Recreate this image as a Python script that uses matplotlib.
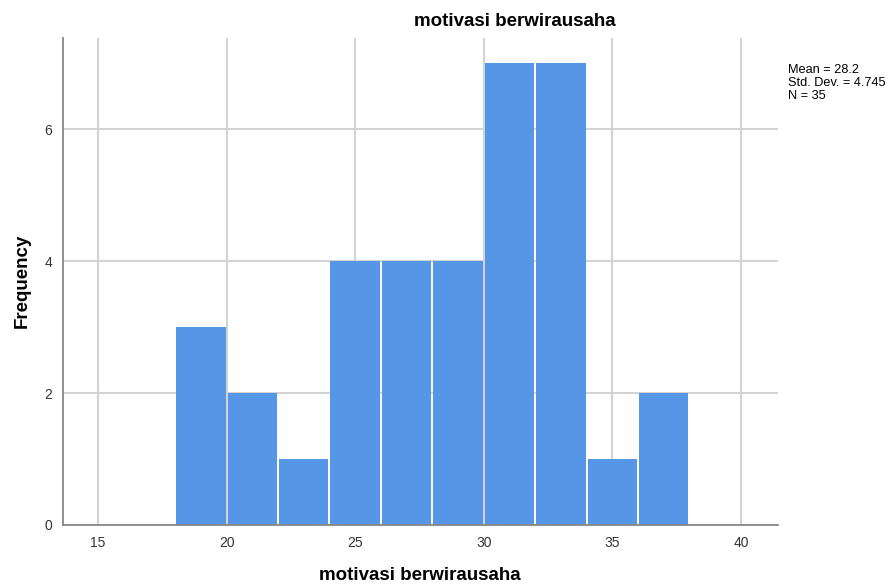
import numpy as np
import matplotlib.pyplot as plt

plt.rcParams['font.family'] = ['Liberation Sans', 'DejaVu Sans']

# histogram data (bin edges and counts)
bin_edges = [18, 20, 22, 24, 26, 28, 30, 32, 34, 36, 38]
counts = [3, 2, 1, 4, 4, 4, 7, 7, 1, 2]
xticks = [15, 20, 25, 30, 35, 40]
yticks = [0, 2, 4, 6]
title = "motivasi berwirausaha"
stats = "Mean = 28.2\nStd. Dev. = 4.745\nN = 35"

fig = plt.figure(figsize=(8.95, 5.84), dpi=100)
ax = fig.add_axes([63/895, 59/584, 715/895, 487/584])

lefts = np.array(bin_edges[:-1])
widths = np.diff(bin_edges)
ax.bar(lefts + 0.04, counts, width=widths - 0.08, align='edge',
       color='#5597E6', edgecolor='none', zorder=2)

ax.set_xlim(13.64, 41.44)
ax.set_ylim(0, 7.38)
ax.set_xticks(xticks)
ax.set_yticks(yticks)
ax.grid(True, color='#d3d3d3', linewidth=1.5, zorder=0)
ax.set_axisbelow(True)
ax.tick_params(length=0, labelsize=10, colors='#333333', pad=8)

for s in ['top', 'right']:
    ax.spines[s].set_visible(False)
for s in ['left', 'bottom']:
    ax.spines[s].set_color('#888888')
    ax.spines[s].set_linewidth(1.3)

# labels placed in figure pixels
fig.text(420/895, 1 - 575/584, title, fontsize=13.5, fontweight='bold',
         ha='center', va='center')
fig.text(22/895, 1 - 281/584, "Frequency", fontsize=13.5, fontweight='bold',
         ha='center', va='center', rotation=90)
fig.text(515/895, 1 - 22/584, title, fontsize=13.5, fontweight='bold',
         ha='center', va='center')
fig.text(788/895, 1 - 64/584, stats, fontsize=9.2, ha='left', va='top',
         linespacing=1.1)

fig.savefig("out.png", dpi=100)
